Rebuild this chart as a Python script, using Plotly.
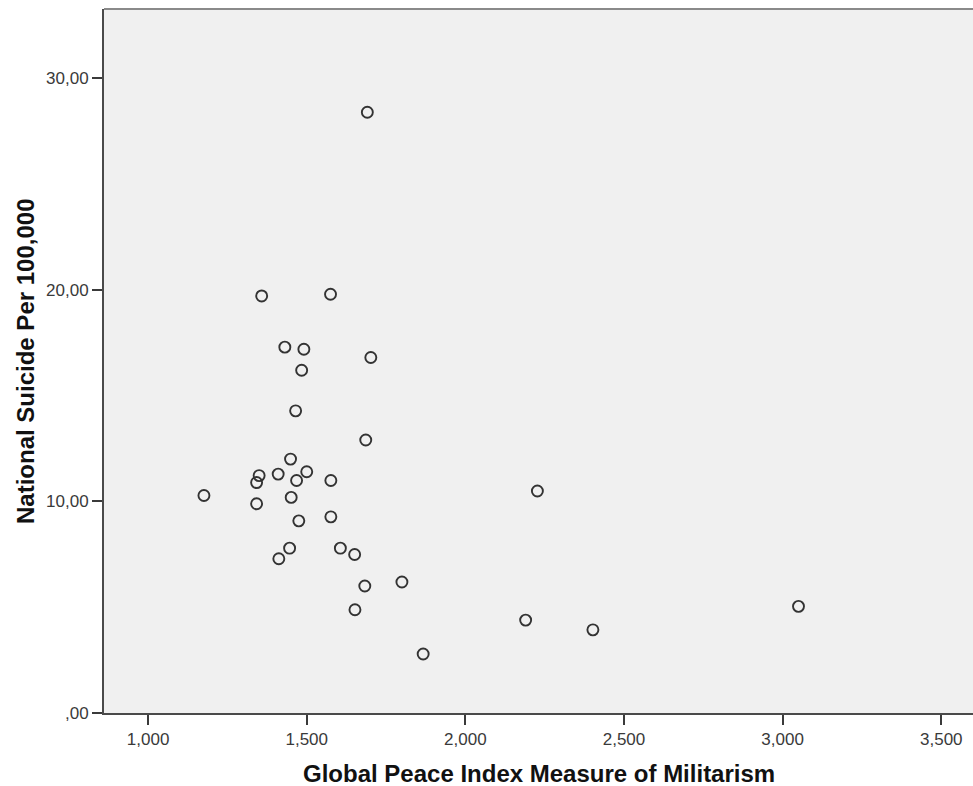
import plotly.graph_objects as go

militarism = [1.691, 1.358, 1.575, 1.431, 1.491, 1.702, 1.484, 1.465, 1.686,
              1.449, 1.350, 1.342, 1.410, 1.500, 1.468, 1.576, 1.176, 1.342,
              1.451, 1.475, 1.576, 1.446, 1.412, 1.606, 1.651, 1.683, 1.800,
              1.652, 1.867, 2.227, 2.190, 2.402, 3.050]
suicide = [28.39, 19.71, 19.79, 17.29, 17.19, 16.80, 16.20, 14.28, 12.90,
           12.00, 11.22, 10.89, 11.29, 11.40, 10.99, 10.99, 10.28, 9.89,
           10.19, 9.08, 9.27, 7.79, 7.29, 7.79, 7.49, 6.00, 6.19,
           4.88, 2.79, 10.49, 4.39, 3.93, 5.04]

x_tickvals = [1.0, 1.5, 2.0, 2.5, 3.0, 3.5]
x_ticktext = ["1,000", "1,500", "2,000", "2,500", "3,000", "3,500"]
y_tickvals = [0, 10, 20, 30]
y_ticktext = [",00", "10,00", "20,00", "30,00"]

x_title = "Global Peace Index Measure of Militarism"
y_title = "National Suicide Per 100,000"

fig = go.Figure()
fig.add_trace(go.Scatter(
    x=militarism, y=suicide, mode="markers",
    marker=dict(symbol="circle-open", size=11, color="#333333",
                line=dict(width=1.9, color="#333333")),
    showlegend=False, hoverinfo="skip"))

axis_common = dict(showgrid=False, zeroline=False, showline=True,
                   linecolor="#4a4a4a", linewidth=2, ticks="outside",
                   tickwidth=2, tickcolor="#3a3a3a", automargin=False,
                   tickfont=dict(size=17, color="#3a3a3a"))

fig.update_layout(
    width=973, height=786,
    margin=dict(l=104, r=0, t=9, b=73),
    paper_bgcolor="white", plot_bgcolor="#f0f0f0",
    font=dict(family="Liberation Sans, Arial, sans-serif", color="#333333", size=12),
    xaxis=dict(range=[0.861, 3.600], tickvals=x_tickvals, ticktext=x_ticktext,
               ticklen=10, **axis_common),
    yaxis=dict(range=[0, 33.27], tickvals=y_tickvals, ticktext=y_ticktext,
               ticklen=10, **axis_common),
    shapes=[dict(type="line", xref="paper", yref="paper", x0=0, x1=1, y0=1, y1=1,
                 line=dict(color="#8a8a8a", width=2))],
    annotations=[
        dict(text="<b>" + x_title + "</b>", xref="paper", yref="paper",
             x=0.5, y=0, xanchor="center", yanchor="middle", yshift=-60,
             showarrow=False, font=dict(size=24, color="#111111")),
        dict(text="<b>" + y_title + "</b>", xref="paper", yref="paper",
             x=0, y=0.5, xanchor="center", yanchor="middle", xshift=-79,
             textangle=-90, showarrow=False, font=dict(size=24, color="#111111")),
    ],
)

fig.write_html("out.html",
               config={"displayModeBar": False},
               post_script="document.body.style.margin='0';"
                           "document.body.style.overflow='hidden';")
